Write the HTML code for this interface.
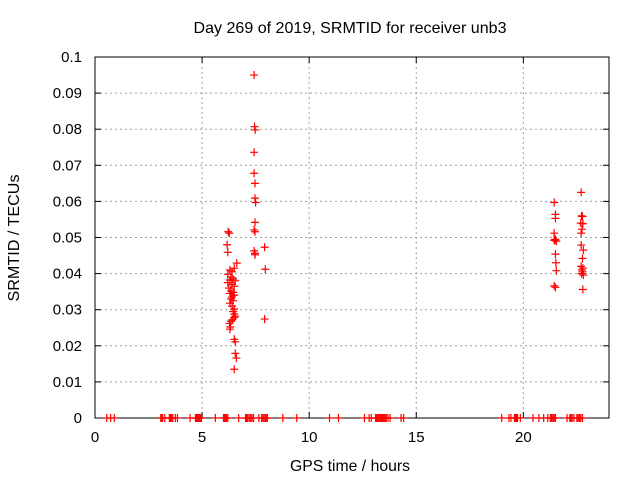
<!DOCTYPE html>
<html><head><meta charset="utf-8"><style>
body{margin:0;background:#fff}
svg{display:block;font-family:"Liberation Sans",sans-serif}
</style></head><body>
<svg id="chart" width="640" height="480" viewBox="0 0 640 480">
<text x="350" y="33" font-size="16" text-anchor="middle" textLength="313" lengthAdjust="spacingAndGlyphs">Day 269 of 2019, SRMTID for receiver unb3</text>
<text transform="translate(19,238) rotate(-90)" font-size="16" text-anchor="middle" textLength="127" lengthAdjust="spacingAndGlyphs">SRMTID / TECUs</text>
<text x="350" y="471" font-size="16" text-anchor="middle" textLength="120" lengthAdjust="spacingAndGlyphs">GPS time / hours</text>
<g id="grid"></g><g id="axes"></g><g id="marks"></g>
</svg>
<script>
const xTicks=[0,5,10,15,20];
const yTicks=[0,0.01,0.02,0.03,0.04,0.05,0.06,0.07,0.08,0.09,0.1];
const yTickLabels=["0","0.01","0.02","0.03","0.04","0.05","0.06","0.07","0.08","0.09","0.1"];
const zeroTimes=[0.55,0.73,0.9,3.07,3.12,3.16,3.26,3.47,3.52,3.58,3.63,3.75,3.85,4.44,4.69,4.74,4.79,4.84,4.89,4.94,4.97,5.62,6.0,6.05,6.1,6.15,6.2,6.71,7.03,7.08,7.13,7.2,7.27,7.33,7.4,7.65,7.78,7.84,7.9,7.96,8.02,8.05,8.77,9.42,10.95,11.37,12.58,12.8,12.9,13.1,13.15,13.2,13.25,13.3,13.35,13.4,13.45,13.5,13.55,13.6,13.68,13.78,14.29,14.41,18.99,19.33,19.42,19.58,19.63,19.68,19.73,19.86,20.45,20.73,20.95,21.14,21.26,21.32,21.38,21.44,21.5,22.04,22.17,22.22,22.28,22.36,22.5,22.56,22.62,22.68,22.76];
const times=[
7.43,7.45,7.48,7.43,7.43,7.47,7.47,7.5,7.47,7.43,7.47,7.43,7.47,7.47,7.92,7.95,7.92,
6.22,6.27,6.17,6.2,6.62,6.5,6.3,6.4,6.2,6.35,6.45,6.3,6.55,6.2,6.4,6.5,6.25,6.35,6.45,6.3,6.5,6.4,6.35,6.45,6.3,6.4,6.5,6.45,6.5,6.55,6.5,6.42,6.35,6.28,6.32,6.3,6.5,6.55,6.55,6.6,6.5,
21.44,21.5,21.5,21.44,21.44,21.5,21.54,21.47,21.5,21.52,21.54,21.44,21.5,
22.7,22.72,22.76,22.68,22.78,22.74,22.7,22.7,22.8,22.76,22.7,22.78,22.74,22.76,22.8,22.72,22.78];
const values=[
0.095,0.0807,0.0798,0.0736,0.0678,0.065,0.0609,0.0597,0.0542,0.0521,0.0516,0.0463,0.0456,0.0452,0.0473,0.0412,0.0274,
0.0516,0.0512,0.048,0.0459,0.0429,0.0415,0.041,0.0405,0.0398,0.039,0.0385,0.0382,0.038,0.0375,0.037,0.0365,0.036,0.0352,0.0348,0.0345,0.034,0.0335,0.033,0.0325,0.0318,0.031,0.0302,0.0295,0.0288,0.0282,0.0278,0.0272,0.0268,0.0262,0.0252,0.0246,0.0218,0.0211,0.0179,0.0166,0.0135,
0.0597,0.0564,0.0553,0.0512,0.0493,0.0495,0.049,0.0492,0.0454,0.043,0.0408,0.0366,0.0362,
0.0625,0.056,0.0558,0.054,0.0538,0.0523,0.0512,0.0479,0.0465,0.0442,0.042,0.0415,0.041,0.0405,0.0396,0.04,0.0356];
const L=95,R=609,T=57,B=418,XMAX=24,YMAX=0.1;
const xs=v=>L+v/XMAX*(R-L), ys=v=>B-v/YMAX*(B-T);
const NS="http://www.w3.org/2000/svg";
function mk(tag,attrs,parent){const e=document.createElementNS(NS,tag);for(const k in attrs)e.setAttribute(k,attrs[k]);document.getElementById(parent).appendChild(e);return e;}
xTicks.forEach(t=>{
 if(t>0){const g=mk('line',{x1:xs(t),x2:xs(t),y1:T,y2:B,stroke:'#a0a0a0','stroke-dasharray':'2,3'},'grid');
 
 }
 const k=mk('line',{x1:xs(t),x2:xs(t),y1:B,y2:B-6,stroke:'#000'},'axes');
 
 
 const k2=mk('line',{x1:xs(t),x2:xs(t),y1:T,y2:T+6,stroke:'#000'},'axes');
 
 
 const tx=mk('text',{x:xs(t),y:B+24,'font-size':15,'text-anchor':'middle',fill:'#000'},'axes');tx.textContent=t;
 
 
});
yTicks.forEach((t,i)=>{
 if(t>0&&t<YMAX){const g=mk('line',{x1:L,x2:R,y1:ys(t),y2:ys(t),stroke:'#a0a0a0','stroke-dasharray':'2,3'},'grid');
 
 }
 const k=mk('line',{x1:L,x2:L+6,y1:ys(t),y2:ys(t),stroke:'#000'},'axes');
 
 
 const k2=mk('line',{x1:R,x2:R-6,y1:ys(t),y2:ys(t),stroke:'#000'},'axes');
 
 
 const tx=mk('text',{x:82,y:ys(t)+5,'font-size':15,'text-anchor':'end',fill:'#000'},'axes');tx.textContent=yTickLabels[i];
 
 
});
const fr=mk('rect',{x:L,y:T,width:R-L,height:B-T,fill:'none',stroke:'#000'},'axes');


function plus(x,y,name){
 const p=mk('path',{d:`M${x-4},${y}H${x+4}M${x},${y-4}V${y+4}`,stroke:'#f00','stroke-width':1.2},'marks');
 
 
}
zeroTimes.forEach(t=>plus(xs(t),ys(0),'zero-point'));
times.forEach((t,i)=>plus(xs(t),ys(values[i]),'data-point'));
</script>
</body></html>
